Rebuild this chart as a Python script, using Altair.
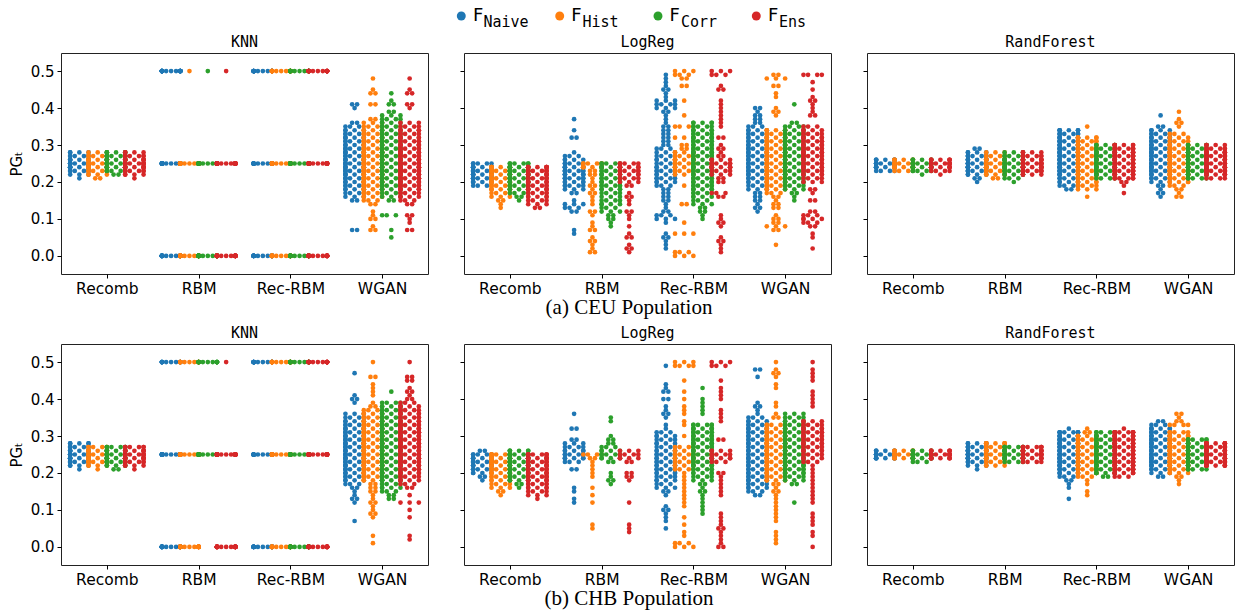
import json
import altair as alt
import pandas as pd

GENERATORS = ["Recomb", "RBM", "Rec-RBM", "WGAN"]
FEATURES = ["Naive", "Hist", "Corr", "Ens"]
COLORS = ["#1f77b4", "#ff7f0e", "#2ca02c", "#d62728"]
CLASSIFIERS = ["KNN", "LogReg", "RandForest"]
CAPTIONS = ["(a) CEU Population", "(b) CHB Population"]
Y_TICKS = [0.0, 0.1, 0.2, 0.3, 0.4, 0.5]

# Number of PG_t values per 0.01 bin.
# Each entry: "startbin:counts" segments, one base-36 digit per consecutive bin.
CEU_KNN = {
    "Recomb": ["21:13699864", "21:2469a963", "22:2579a96", "21:1469a974"],
    "RBM": ["0:p 25:p 50:p", "0:p 25:p 50:1", "0:p 25:p 50:1", "0:p 25:p 50:1"],
    "Rec-RBM": ["0:k 25:k 50:k", "0:k 25:k 50:k", "0:k 25:k 50:k", "0:k 25:k 50:k"],
    "WGAN": ["7:2 15:2345678899998877665432 40:12",
             "7:21 10:211 14:234567899999887766554432 41:2 44:21 48:1",
             "5:1 7:1 11:3 15:2345678899999887766554432 41:21 44:1",
             "7:2 9:112 14:23456789999998877665543 40:12 44:21 48:1"],
}
CEU_LOGREG = {
    "Recomb": ["19:3689985", "13:112346789998", "15:12345789986", "13:234567789999"],
    "RBM": ["6:11 12:2331 17:23556776543 28:1 32:2 34:1 37:1",
            "1:21121 7:211 11:12 14:1112121122 24:86",
            "8:112233443 17:456666665",
            "1:121 5:21 8:1 10:112 14:1121 19:2345665"],
    "Rec-RBM": ["2:1112100133211222234555444333222222111234311211 48:11",
                "0:33 6:3 9:1 14:2 19:1 22:3568865 29:22 32:3 35:3 38:1 42:1 46:2 48:233",
                "10:112233456677788888877776655",
                "1:11 3:12 5:1 8:1211 16:23 20:223487421 29:21 32:2 35:11111111 45:21 49:33"],
    "WGAN": ["12:1212223456777777776655432 37:2212",
             "3:1 7:2322 11:1 13:22 15:1 16:2 17:345678888888887765 38:12 40:1 43:1 44:1 46:2 48:32",
             "15:1123567888888887766542 41:1",
             "2:1 5:11 8:23432 15:2 17:12 20:3456677777766543 38:21 40:1 41:1 42:2 43:1 45:1 47:1 49:4"],
}
CEU_RF = {
    "Recomb": ["23:49a7", "23:3a96", "22:158a6", "22:148a7"],
    "RBM": ["20:1248aa9742", "21:258bb963", "20:1358aa963", "22:48bb974"],
    "Rec-RBM": ["18:245689aaaaaa99876", "16:1 18:3568aaaaaa99876 35:1",
                "21:4899aaaa85", "17:1 19:12 21:69aaaaaa86"],
    "WGAN": ["16:12 18:1 19:23 21:579aaaaa9987 33:54 35:2 38:1",
             "16:2 17:1 18:2 19:3 20:579aaaaa998 31:433 35:12 37:1 39:1",
             "21:59aaaaa975", "21:49aaaaa974"],
}
CHB_KNN = {
    "Recomb": ["21:1479a975", "21:1479a86", "21:2579a86", "21:1479a96"],
    "RBM": ["0:p 25:p 50:f", "0:p 25:p 50:f", "25:p 50:f", "0:p 25:p 50:1"],
    "Rec-RBM": ["0:k 25:k 50:k", "0:k 25:k 50:k", "0:k 25:k 50:k", "0:k 25:k 50:k"],
    "WGAN": ["7:1 12:12 14:11 16:2 17:345678899999887765 35:43 39:12 41:1 47:1",
             "1:1 3:1 8:12112112 16:2 17:2 18:456788888888776655 36:43 38:2 39:1 41:11 43:1 44:1 46:2 50:1",
             "13:223456788999999998888776654 42:1",
             "2:11 8:1 10:1 12:3 14:1 16:2 17:3 18:4567778888888877666 37:54 39:32 41:12 43:1 45:22 50:1"],
}
CHB_LOGREG = {
    "Recomb": ["18:124677752", "14:123456788999", "16:12456789996", "13:1345678999999"],
    "RBM": ["12:11 15:11 21:2 23:3565432 32:2 36:1",
            "5:11 12:1 14:1 16:1 19:1111124",
            "17:1211 23:24543221 34:11",
            "4:111 12:1 18:122 23:2443"],
    "Rec-RBM": ["5:1 7:11121 14:123344555555544443 32:11 35:1211 40:2 42:211 49:1",
                "0:33 3:11 6:1 8:1 11:1111111111 21:3445543 30:1 33:11 36:111 40:1 42:1 45:1 49:43",
                "9:1111112 16:1 17:2 18:3 19:456778888888776 36:1111 40:1 43:1",
                "0:2111121111 14:1111112 23:3554 29:2 34:1111 40:1111 45:1 49:33"],
    "WGAN": ["14:2345666666666666666543 36:1121 46:1 48:2",
             "1:1111 7:111111112 16:12 18:4567778888887765 35:21 38:11 43:11 46:121 50:1",
             "12:1 17:23567888888888776543",
             "0:1 3:11 6:1111 12:11111111111 23:345666666654 38:11111 45:1111 50:1"],
}
CHB_RF = {
    "Recomb": ["24:8c6", "24:7c7", "23:38c5", "24:8c7"],
    "RBM": ["21:1369aa85", "22:469aa97", "23:49aa8", "23:48aa8"],
    "Rec-RBM": ["13:1 16:1 17:12 19:3 20:679aaaaaa998 32:1",
                "14:11 17:1 18:1 19:3 20:79aaaaaaa98 31:2 32:1",
                "19:2 20:69aaaaaaaa86", "19:3 20:8aaaaaaaaaa8 31:1 32:1"],
    "WGAN": ["19:2 20:3 21:69aaaaaaa976 33:3 34:2",
             "17:1 18:1 19:2 20:4 21:8aaaaaaa975 33:4 34:2 35:1 36:2",
             "21:59aaaaa97", "22:8aaaaa9"],
}
PANELS = [[CEU_KNN, CEU_LOGREG, CEU_RF], [CHB_KNN, CHB_LOGREG, CHB_RF]]


def expand(spec):
    out = []
    for seg in spec.split():
        lo, digits = seg.split(":")
        lo = int(lo)
        for j, ch in enumerate(digits):
            out += [lo + j] * int(ch, 36)
    return out


W, H = 367, 221
S = 0.054      # dot diameter in category units
Q = 0.05       # inner column offset of the staggered swarm
HALF = 0.1     # half width of one hue group
FS = 15
label_expr = json.dumps(GENERATORS) + "[round(datum.value)]"

# legend geometry (relative to the middle top panel)
LEG_DOT_X = [-2.7, 95.7, 194, 292.3]
LEG_F_X = [9, 107.3, 205.5, 304]
LEG_SUB_X = [19.5, 118.5, 217, 315]

one = pd.DataFrame({"a": [0]})

swarm_expr = (
    f"datum.n >= 15 ? (datum.j % 2 == 1 ? 1 : -1) * ceil(datum.j / 2) * {S}"
    f" : datum.n == 1 ? 0"
    f" : datum.n == 2 ? (datum.j == 0 ? -1 : 1) * {S / 2}"
    f" : datum.bin % 2 == 0 ? (datum.j == 0 ? 0 : (datum.j % 2 == 1 ? -1 : 1) * {HALF})"
    f" : (datum.j < 2 ? (datum.j == 0 ? -1 : 1) * {Q} : (datum.j % 2 == 0 ? -1 : 1) * {HALF})"
)

charts = []
for r, row in enumerate(PANELS):
    for c, table in enumerate(row):
        recs = []
        for gi, g in enumerate(GENERATORS):
            for fi, spec in enumerate(table[g]):
                for b in expand(spec):
                    recs.append({"gen": gi, "feat": fi, "feature": FEATURES[fi],
                                 "bin": b, "pg": b / 100})
        df = pd.DataFrame(recs)

        yax = dict(values=Y_TICKS, format=".1f", labels=(c == 0), grid=False,
                   domain=False, tickSize=4, tickColor="black", labelPadding=3,
                   labelFontSize=FS, labelColor="black", labelFont="DejaVu Sans")
        if c == 0:
            yax.update(title="PGₜ", titleFont="DejaVu Sans", titleFontSize=FS,
                       titleFontWeight="normal", titleColor="black", titlePadding=6)
        else:
            yax.update(title=None)

        pts = alt.Chart(df).transform_joinaggregate(
            n="count()", groupby=["gen", "feat", "bin"]
        ).transform_window(
            k="row_number()", groupby=["gen", "feat", "bin"]
        ).transform_calculate(
            j="datum.k - 1"
        ).transform_calculate(
            off=swarm_expr
        ).transform_calculate(
            xpos=f"datum.gen + (datum.feat - 1.5) * 0.2 + clamp(datum.off, -{HALF}, {HALF})"
        ).mark_circle(size=22, opacity=1).encode(
            x=alt.X("xpos:Q", scale=alt.Scale(domain=[-0.5, 3.5], nice=False, zero=False),
                    axis=alt.Axis(values=[0, 1, 2, 3], labelExpr=label_expr, title=None,
                                  grid=False, domain=False, tickSize=4, tickColor="black",
                                  labelPadding=3, labelFontSize=15.5, labelColor="black",
                                  labelFont="DejaVu Sans")),
            y=alt.Y("pg:Q", scale=alt.Scale(domain=[-0.049, 0.549], nice=False, zero=False),
                    axis=alt.Axis(**yax)),
            color=alt.Color("feature:N", scale=alt.Scale(domain=FEATURES, range=COLORS),
                            legend=None),
            order=alt.Order("feat:Q"),
        )

        layers = [pts]
        # panel title
        layers.append(alt.Chart(one).mark_text(
            text=CLASSIFIERS[c], font="DejaVu Sans Mono", fontSize=15, color="black",
            align="center", baseline="alphabetic"
        ).encode(x=alt.value(W / 2), y=alt.value(-6)))
        if c == 1:
            layers.append(alt.Chart(one).mark_text(
                text=CAPTIONS[r], font="Liberation Serif", fontSize=21, color="black",
                align="center", baseline="alphabetic"
            ).encode(x=alt.value(165), y=alt.value(H + 40)))
        if r == 0 and c == 1:
            for i, f in enumerate(FEATURES):
                layers.append(alt.Chart(one).mark_circle(size=80, opacity=1, color=COLORS[i])
                              .encode(x=alt.value(LEG_DOT_X[i]), y=alt.value(-37)))
                layers.append(alt.Chart(one).mark_text(
                    text="F", font="DejaVu Sans", fontSize=18, color="black",
                    align="left", baseline="alphabetic"
                ).encode(x=alt.value(LEG_F_X[i]), y=alt.value(-32)))
                layers.append(alt.Chart(one).mark_text(
                    text=f, font="DejaVu Sans Mono", fontSize=15, color="black",
                    align="left", baseline="alphabetic"
                ).encode(x=alt.value(LEG_SUB_X[i]), y=alt.value(-26)))

        panel = alt.layer(*layers).properties(width=W, height=H)
        charts.append(panel)

chart = alt.concat(
    *charts, columns=3, spacing={"row": 70, "column": 36}, bounds="flush"
).properties(
    padding={"left": 8, "top": 6, "right": 0, "bottom": 0},
    background="white",
).configure_view(stroke="#222", strokeWidth=1)

chart.save("out.html", embed_options={"renderer": "svg", "actions": False})
